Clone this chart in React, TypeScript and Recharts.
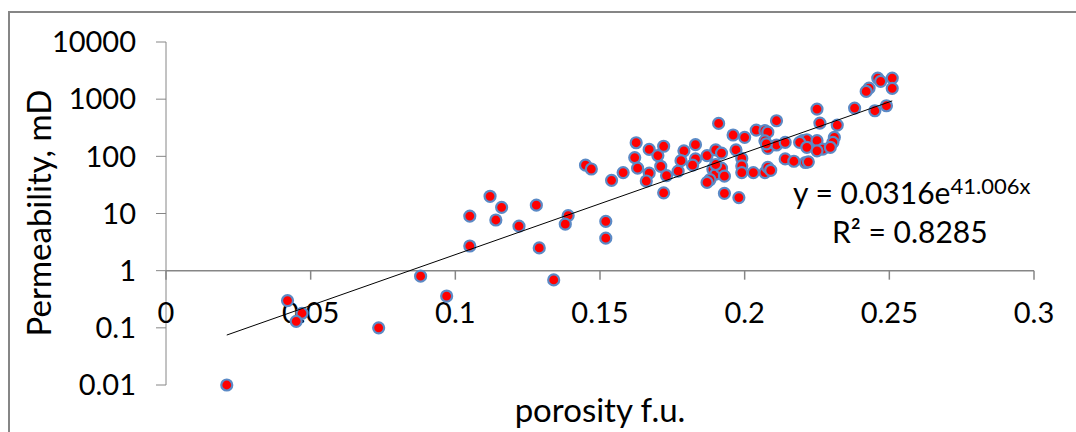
import { ScatterChart, Scatter, XAxis, YAxis, ReferenceLine, ReferenceDot } from "recharts";

// porosity (f.u.) and permeability (mD)
const porosity = [
  0.021, 0.042, 0.047, 0.045, 0.0735, 0.088, 0.097, 0.134,
  0.105, 0.105, 0.112, 0.116, 0.114, 0.122, 0.128, 0.129, 0.139, 0.138, 0.152, 0.152,
  0.145, 0.147, 0.154, 0.158, 0.1625, 0.162, 0.163, 0.167, 0.167, 0.166,
  0.17, 0.172, 0.171, 0.173, 0.172, 0.177, 0.179, 0.178, 0.183, 0.183,
  0.182, 0.187, 0.19, 0.192, 0.189, 0.192, 0.19, 0.188, 0.187, 0.191,
  0.193, 0.198, 0.196, 0.2, 0.197, 0.199, 0.199, 0.199, 0.203, 0.207,
  0.204, 0.207, 0.208, 0.207, 0.208, 0.211, 0.211, 0.208, 0.209, 0.2075,
  0.192, 0.19, 0.193,
  0.225, 0.238, 0.245, 0.249, 0.226, 0.232, 0.214, 0.22, 0.2215, 0.225,
  0.219, 0.2215, 0.227, 0.231, 0.2305, 0.2296, 0.225, 0.214, 0.217, 0.221, 0.222,
  0.246, 0.251, 0.247, 0.251, 0.243, 0.242,
];
const permeability = [
  0.01, 0.3, 0.18, 0.13, 0.1, 0.8, 0.36, 0.69,
  9, 2.7, 20, 12.8, 7.7, 6, 14, 2.5, 9.2, 6.5, 7.3, 3.7,
  70, 60, 38, 52, 173, 95, 62, 132, 51, 37,
  103, 150, 67, 46, 23, 55, 125, 84, 160, 90,
  70, 103, 130, 114, 60, 52, 49, 39, 35, 377,
  22.5, 19, 236, 215, 130, 92, 68, 52, 52, 52,
  288, 281, 265, 187, 138, 419, 158, 64, 57, 165,
  62, 72, 45,
  671, 699, 627, 767, 382, 352, 176, 188, 195, 188,
  176, 144, 134, 215, 176, 144, 125, 90, 82, 78, 80,
  2340, 2340, 2050, 1545, 1563, 1368,
];

const yTicks = [0.01, 0.1, 1, 10, 100, 1000, 10000];
const xTicks = [0, 0.05, 0.1, 0.15, 0.2, 0.25, 0.3];

// exponential trendline y = a * e^(b x), straight on a log axis
const TREND_A = 0.0316;
const TREND_B = 41.006;
const trendX = [0.021, 0.251];

const points = porosity.map((x, i) => ({ x, y: permeability[i] }));
const trend = trendX.map((x) => ({ x, y: TREND_A * Math.exp(TREND_B * x) }));

const FONT = "Lato, 'Open Sans', sans-serif";
const AXIS = "#868686";

function Marker(props: any) {
  return (
    <circle cx={props.cx} cy={props.cy} r={5.5} fill="#ff0000" stroke="#5b8ac6" strokeWidth={2.2} />
  );
}

export default function App() {
  return (
    <div style={{ position: "relative", width: 1076, height: 432, overflow: "hidden" }}>
      <style>{"body{margin:0;overflow:hidden}"}</style>
      <div
        style={{
          position: "absolute",
          left: 8,
          top: 11,
          width: 1200,
          height: 600,
          borderLeft: `2px solid ${AXIS}`,
          borderTop: `2px solid ${AXIS}`,
        }}
      />
      <div style={{ position: "absolute", left: 0, top: 0 }}>
        <ScatterChart width={1076} height={432} margin={{ top: 42, right: 42, left: 0, bottom: 47 }}>
          <XAxis type="number" dataKey="x" domain={[0, 0.3]} ticks={xTicks} hide />
          <YAxis
            type="number"
            dataKey="y"
            scale="log"
            domain={[0.01, 10000]}
            ticks={yTicks}
            width={166}
            tickSize={10}
            tickMargin={20}
            stroke={AXIS}
            tick={{ fill: "#000", fontSize: 29, fontFamily: FONT }}
          />
          <ReferenceLine y={1} stroke={AXIS} strokeWidth={1.5} />
          {xTicks.map((t) => (
            <ReferenceDot
              key={t}
              x={t}
              y={1}
              r={0}
              shape={(p: any) => (
                <g>
                  <line x1={p.cx} x2={p.cx} y1={p.cy} y2={p.cy + 9} stroke={AXIS} strokeWidth={1.5} />
                  <text
                    x={p.cx}
                    y={p.cy + 52}
                    textAnchor="middle"
                    fontSize={29}
                    fontFamily={FONT}
                    fill="#000"
                  >
                    {String(t)}
                  </text>
                </g>
              )}
            />
          ))}
          <Scatter data={points} shape={Marker} isAnimationActive={false} />
          <Scatter
            data={trend}
            line={{ stroke: "#000", strokeWidth: 1 }}
            shape={() => <g />}
            isAnimationActive={false}
          />
        </ScatterChart>
      </div>
      <svg
        width={1076}
        height={432}
        style={{ position: "absolute", left: 0, top: 0, pointerEvents: "none" }}
        fontFamily={FONT}
      >
        <text x={38} y={213} transform="rotate(-90 38 213)" textAnchor="middle" dominantBaseline="central" fontSize={33} fill="#000">
          Permeability, mD
        </text>
        <text x={600} y={422} textAnchor="middle" fontSize={33} fill="#000">
          porosity f.u.
        </text>
        <text x={793} y={204} fontSize={30} fill="#000">
          y = 0.0316e<tspan dy={-10} fontSize={22}>41.006x</tspan>
        </text>
        <text x={832} y={243} fontSize={30} fill="#000">
          R² = 0.8285
        </text>
      </svg>
    </div>
  );
}
